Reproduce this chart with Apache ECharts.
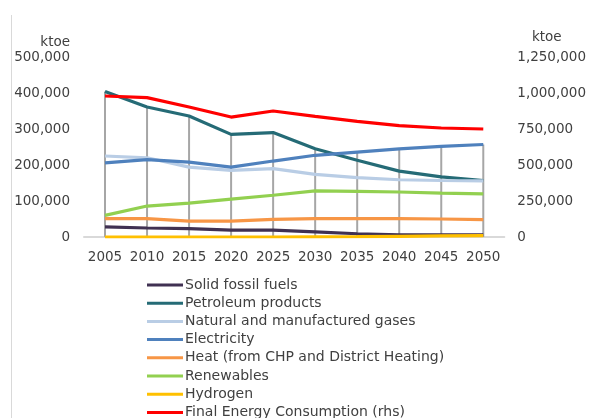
<!DOCTYPE html>
<html>
<head>
<meta charset="utf-8">
<script src="https://cdn.jsdelivr.net/npm/echarts@6/dist/echarts.min.js"></script>
<style>
  html, body { margin: 0; padding: 0; background: #fff; }
  #chart { width: 589px; height: 418px; }
</style>
</head>
<body>
<div id="chart"></div>
<script>
// Years on the category axis
const years = ['2005', '2010', '2015', '2020', '2025', '2030', '2035', '2040', '2045', '2050'];

// Final energy consumption by carrier, ktoe (left axis)
const solidFossil   = [28000, 25000, 23000, 19000, 19000, 14000, 9000, 6000, 6000, 6000];
const petroleum     = [404000, 361000, 336000, 285000, 290000, 245000, 213000, 183000, 167000, 157000];
const naturalGas    = [225000, 220000, 194000, 185000, 190000, 174000, 165000, 159000, 157000, 156000];
const electricity   = [206000, 215000, 208000, 194000, 211000, 227000, 236000, 245000, 252000, 257000];
const heat          = [51000, 51000, 44000, 44000, 49000, 51000, 51000, 51000, 50000, 48000];
const renewables    = [60000, 86000, 94000, 105000, 116000, 128000, 127000, 125000, 122000, 120000];
const hydrogen      = [0, 0, 0, 0, 0, 500, 1000, 2000, 3000, 4000];

// Total final energy consumption, ktoe (right axis)
const finalConsumption = [979000, 968000, 903000, 833000, 875000, 838000, 803000, 773000, 757000, 750000];

const leftSeries = [
  { name: 'Solid fossil fuels', data: solidFossil, color: '#403152' },
  { name: 'Petroleum products', data: petroleum, color: '#256b76' },
  { name: 'Natural and manufactured gases', data: naturalGas, color: '#b9cde5' },
  { name: 'Electricity', data: electricity, color: '#4f81bd' },
  { name: 'Heat (from CHP and District Heating)', data: heat, color: '#f79646' },
  { name: 'Renewables', data: renewables, color: '#92d050' },
  { name: 'Hydrogen', data: hydrogen, color: '#ffc000' }
];

// Drop lines run from the axis up to the highest left-axis series at each year
const dropTops = years.map((_, i) => Math.max(...leftSeries.map(s => s.data[i])));

const FONT = 'DejaVu Sans';
const TEXT = '#404040';

const chart = echarts.init(document.getElementById('chart'), null, { renderer: 'canvas' });

const series = [
  {
    type: 'custom',
    name: 'drop',
    yAxisIndex: 0,
    silent: true,
    z: 1,
    data: dropTops.map((v, i) => [i, v]),
    renderItem: function (params, api) {
      const top = api.coord([api.value(0), api.value(1)]);
      const bottom = api.coord([api.value(0), 0]);
      return {
        type: 'line',
        shape: { x1: top[0], y1: top[1], x2: bottom[0], y2: bottom[1] },
        style: { stroke: '#a6a6a6', lineWidth: 2 }
      };
    }
  }
];

leftSeries.forEach(s => {
  series.push({
    name: s.name,
    type: 'line',
    yAxisIndex: 0,
    data: s.data,
    symbol: 'none',
    z: 3,
    lineStyle: { width: 3.2, color: s.color },
    itemStyle: { color: s.color }
  });
});

series.push({
  name: 'Final Energy Consumption (rhs)',
  type: 'line',
  yAxisIndex: 1,
  data: finalConsumption,
  symbol: 'none',
  z: 4,
  lineStyle: { width: 3.2, color: '#ff0000' },
  itemStyle: { color: '#ff0000' }
});

const fmt = v => v.toLocaleString('en-US');

chart.setOption({
  animation: false,
  backgroundColor: '#ffffff',
  textStyle: { fontFamily: FONT },
  grid: { left: 84, right: 84, top: 57, bottom: 181 },
  xAxis: {
    type: 'category',
    data: years,
    boundaryGap: true,
    axisLine: { lineStyle: { color: '#d9d9d9', width: 2 } },
    axisTick: { show: false },
    axisLabel: { color: TEXT, fontSize: 13.5, fontFamily: FONT, margin: 13, interval: 0, hideOverlap: false },
    splitLine: { show: false }
  },
  yAxis: [
    {
      type: 'value',
      min: 0, max: 500000, interval: 100000,
      axisLine: { show: false },
      axisTick: { show: false },
      splitLine: { show: false },
      axisLabel: { color: TEXT, fontSize: 13.5, fontFamily: FONT, margin: 14, formatter: fmt }
    },
    {
      type: 'value',
      min: 0, max: 1250000, interval: 250000,
      position: 'right',
      axisLine: { show: false },
      axisTick: { show: false },
      splitLine: { show: false },
      axisLabel: { color: TEXT, fontSize: 13.5, fontFamily: FONT, margin: 13, formatter: fmt }
    }
  ],
  legend: {
    orient: 'vertical',
    left: 147,
    top: 276,
    height: 220,
    padding: 0,
    itemWidth: 36,
    itemHeight: 3,
    itemGap: 0.2,
    icon: 'rect',
    data: leftSeries.map(s => s.name).concat(['Final Energy Consumption (rhs)']),
    textStyle: { color: TEXT, fontSize: 14, fontFamily: FONT, lineHeight: 18, padding: [0, 0, 0, -3] }
  },
  graphic: [
    { type: 'line', shape: { x1: 11.5, y1: 15, x2: 11.5, y2: 418 }, style: { stroke: '#d9d9d9', lineWidth: 1 } },
    { type: 'text', right: 589 - 70, top: 35, style: { text: 'ktoe', fill: TEXT, font: '13.5px "' + FONT + '"', textAlign: 'right' } },
    { type: 'text', left: 532, top: 30, style: { text: 'ktoe', fill: TEXT, font: '13.5px "' + FONT + '"' } }
  ],
  series: series
});
</script>
</body>
</html>
